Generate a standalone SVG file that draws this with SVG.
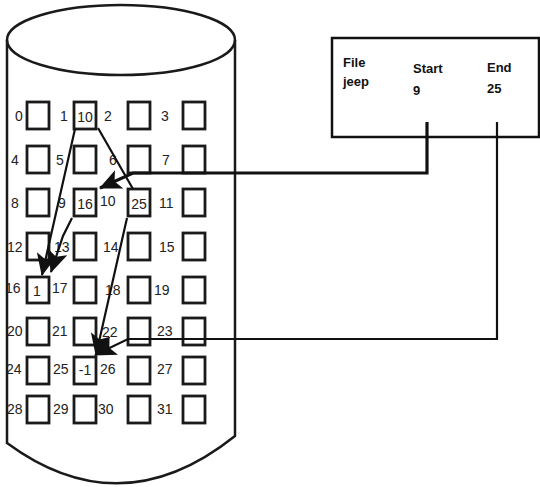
<svg xmlns="http://www.w3.org/2000/svg" width="540" height="487" viewBox="0 0 540 487">
<style>
.cyl{fill:none;stroke:#1a1a1a;stroke-width:2.5}
.sq{fill:#fff;stroke:#1a1a1a;stroke-width:2.8}
.lb{font-family:"Liberation Sans",Arial,sans-serif;font-size:14px;fill:#222}
.in{font-family:"Liberation Sans",Arial,sans-serif;font-size:14px;fill:#222;text-anchor:middle}
.bx{font-family:"Liberation Sans",Arial,sans-serif;font-size:13px;fill:#111;font-weight:bold}
.cn{fill:none;stroke:#111;stroke-width:2.2}
</style>
<defs>
<marker id="ah" markerUnits="userSpaceOnUse" markerWidth="24" markerHeight="20" refX="21" refY="10" orient="auto">
<path d="M0,0 L22,10 L0,20 L5,10 z" fill="#111"/>
</marker>
</defs>
<g id="disk">
<ellipse class="cyl" cx="121" cy="40" rx="114" ry="35"/>
<path class="cyl" d="M7,40 V443 Q121,527 235,436 V40"/>
</g>
<g id="blocks">
<g id="row0">
<text class="lb" x="15" y="121">0</text><rect class="sq" x="27" y="102" width="22" height="27"/>
<text class="lb" x="60" y="121">1</text><rect class="sq" x="74" y="102" width="22" height="27"/><text class="in" x="85" y="122">10</text>
<text class="lb" x="104" y="121">2</text><rect class="sq" x="128" y="102" width="22" height="27"/>
<text class="lb" x="161" y="121">3</text><rect class="sq" x="183" y="102" width="22" height="27"/>
</g>
<g id="row1">
<text class="lb" x="11" y="165">4</text><rect class="sq" x="27" y="146" width="22" height="27"/>
<text class="lb" x="56" y="165">5</text><rect class="sq" x="74" y="146" width="22" height="27"/>
<text class="lb" x="109" y="165">6</text><rect class="sq" x="128" y="146" width="22" height="27"/>
<text class="lb" x="162" y="165">7</text><rect class="sq" x="183" y="146" width="22" height="27"/>
</g>
<g id="row2">
<text class="lb" x="11" y="208">8</text><rect class="sq" x="27" y="189" width="22" height="27"/>
<text class="lb" x="58" y="208">9</text><rect class="sq" x="74" y="189" width="22" height="27"/><text class="in" x="85" y="209">16</text>
<text class="lb" x="100" y="206">10</text><rect class="sq" x="128" y="189" width="22" height="27"/><text class="in" x="139" y="209">25</text>
<text class="lb" x="159" y="208">11</text><rect class="sq" x="183" y="189" width="22" height="27"/>
</g>
<g id="row3">
<text class="lb" x="7" y="252">12</text><rect class="sq" x="27" y="233" width="22" height="27"/>
<text class="lb" x="54" y="252">13</text><rect class="sq" x="74" y="233" width="22" height="27"/>
<text class="lb" x="103" y="252">14</text><rect class="sq" x="128" y="233" width="22" height="27"/>
<text class="lb" x="159" y="252">15</text><rect class="sq" x="183" y="233" width="22" height="27"/>
</g>
<g id="row4">
<text class="lb" x="5" y="293">16</text><rect class="sq" x="27" y="277" width="22" height="26"/><text class="in" x="37" y="296">1</text>
<text class="lb" x="52" y="293">17</text><rect class="sq" x="74" y="277" width="22" height="26"/>
<text class="lb" x="105" y="295">18</text><rect class="sq" x="128" y="277" width="22" height="26"/>
<text class="lb" x="154" y="295">19</text><rect class="sq" x="183" y="277" width="22" height="26"/>
</g>
<g id="row5">
<text class="lb" x="7" y="336">20</text><rect class="sq" x="27" y="318" width="22" height="27"/>
<text class="lb" x="52" y="336">21</text><rect class="sq" x="74" y="318" width="22" height="27"/>
<text class="lb" x="102" y="337">22</text><rect class="sq" x="128" y="318" width="22" height="27"/>
<text class="lb" x="157" y="336">23</text><rect class="sq" x="183" y="318" width="22" height="27"/>
</g>
<g id="row6">
<text class="lb" x="6" y="374">24</text><rect class="sq" x="27" y="357" width="22" height="27"/>
<text class="lb" x="53" y="374">25</text><rect class="sq" x="74" y="357" width="22" height="27"/><text class="in" x="85" y="375">-1</text>
<text class="lb" x="100" y="374">26</text><rect class="sq" x="128" y="357" width="22" height="27"/>
<text class="lb" x="157" y="374">27</text><rect class="sq" x="183" y="357" width="22" height="27"/>
</g>
<g id="row7">
<text class="lb" x="7" y="414">28</text><rect class="sq" x="27" y="396" width="22" height="27"/>
<text class="lb" x="53" y="414">29</text><rect class="sq" x="74" y="396" width="22" height="27"/>
<text class="lb" x="98" y="414">30</text><rect class="sq" x="128" y="396" width="22" height="27"/>
<text class="lb" x="157" y="414">31</text><rect class="sq" x="183" y="396" width="22" height="27"/>
</g>
</g>
<g id="fat">
<rect x="332" y="38" width="207" height="99" fill="#fff" stroke="#111" stroke-width="2.5"/>
<text class="bx" x="343" y="67">File</text>
<text class="bx" x="343" y="86">jeep</text>
<text class="bx" x="413" y="73">Start</text>
<text class="bx" x="413" y="95">9</text>
<text class="bx" x="487" y="72">End</text>
<text class="bx" x="487" y="93">25</text>
</g>
<g id="connectors">
<path class="cn" style="stroke-width:3.2" d="M427,122 V173 H133 L100,188" marker-end="url(#ah)"/>
<path class="cn" d="M497,122 V339 H128 L95,355" marker-end="url(#ah)"/>
<path class="cn" d="M98,128 L133,189"/>
<path class="cn" d="M75,129 L42,275" marker-end="url(#ah)"/>
<path class="cn" d="M72,218 L63,236 L51,272" marker-end="url(#ah)"/>
<path class="cn" d="M127,218 L96,355" marker-end="url(#ah)"/>
</g>
</svg>
